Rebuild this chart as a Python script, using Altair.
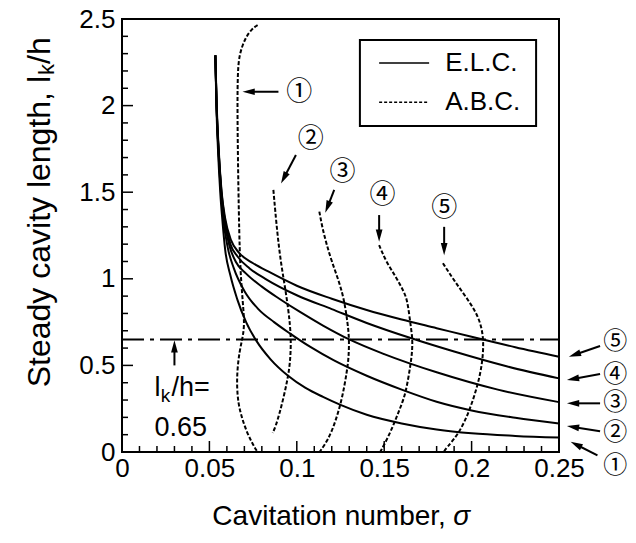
import math
import altair as alt
import pandas as pd

# ---------------- data ----------------
# E.L.C. (solid) curves 1..5 : sigma, l_k/h
elc1_s = [0.0534, 0.0540, 0.0549, 0.0562, 0.0575, 0.0590, 0.0620, 0.0660, 0.0710, 0.0770, 0.0850,
          0.0950, 0.1050, 0.1150, 0.1250, 0.1400, 0.1600, 0.1800, 0.2000, 0.2250, 0.2500]
elc1_l = [2.29, 2.00, 1.75, 1.50, 1.33, 1.17, 1.02, 0.88, 0.75, 0.64, 0.535,
          0.44, 0.37, 0.318, 0.272, 0.215, 0.165, 0.13, 0.108, 0.093, 0.083]
elc2_s = [0.0534, 0.0541, 0.0551, 0.0566, 0.0580, 0.0605, 0.0640, 0.0700, 0.0780, 0.0870, 0.0960,
          0.1080, 0.1210, 0.1400, 0.1600, 0.1800, 0.2000, 0.2250, 0.2500]
elc2_l = [2.29, 2.00, 1.75, 1.50, 1.34, 1.18, 1.06, 0.93, 0.825, 0.75, 0.685,
          0.605, 0.53, 0.44, 0.36, 0.29, 0.24, 0.198, 0.165]
elc3_s = [0.0534, 0.0541, 0.0552, 0.0568, 0.0585, 0.0615, 0.0650, 0.0710, 0.0800, 0.0900, 0.1016,
          0.1150, 0.1300, 0.1500, 0.1800, 0.2150, 0.2500]
elc3_l = [2.29, 2.00, 1.75, 1.50, 1.34, 1.19, 1.10, 1.03, 0.955, 0.885, 0.81,
          0.73, 0.65, 0.565, 0.46, 0.36, 0.288]
elc4_s = [0.0534, 0.0541, 0.0552, 0.0569, 0.0587, 0.0620, 0.0660, 0.0730, 0.0820, 0.1000, 0.1200,
          0.1400, 0.1660, 0.1900, 0.2200, 0.2500]
elc4_l = [2.29, 2.00, 1.75, 1.50, 1.35, 1.20, 1.13, 1.06, 1.00, 0.905, 0.825,
          0.745, 0.655, 0.58, 0.495, 0.425]
elc5_s = [0.0534, 0.0542, 0.0553, 0.0570, 0.0590, 0.0625, 0.0670, 0.0750, 0.0850, 0.1000, 0.1200,
          0.1400, 0.1600, 0.1800, 0.2000, 0.2250, 0.2500]
elc5_l = [2.29, 2.00, 1.75, 1.50, 1.35, 1.22, 1.15, 1.09, 1.035, 0.96, 0.885,
          0.82, 0.765, 0.715, 0.665, 0.605, 0.55]

# A.B.C. (dashed) curves 1..5
abc1_s = [0.0776, 0.0740, 0.0705, 0.0672, 0.0662, 0.0660, 0.0663, 0.0668, 0.0673, 0.0680, 0.0695,
          0.0700, 0.0690, 0.0672, 0.0660, 0.0657, 0.0665, 0.0685, 0.0712, 0.0745, 0.0775]
abc1_l = [2.465, 2.44, 2.39, 2.30, 2.20, 2.00, 1.70, 1.40, 1.17, 1.00, 0.82,
          0.73, 0.66, 0.58, 0.48, 0.38, 0.28, 0.20, 0.12, 0.05, 0.0]
abc2_s = [0.0866, 0.0876, 0.0890, 0.0908, 0.0928, 0.0948, 0.0962, 0.0967, 0.0962, 0.0950, 0.0928,
          0.0902, 0.0878, 0.0862]
abc2_l = [1.513, 1.40, 1.25, 1.10, 0.98, 0.85, 0.73, 0.63, 0.52, 0.435, 0.33,
          0.225, 0.145, 0.11]
abc3_s = [0.1129, 0.1145, 0.1170, 0.1200, 0.1243, 0.1271, 0.1290, 0.1300, 0.1297, 0.1288, 0.1262,
          0.1225, 0.1180, 0.1130]
abc3_l = [1.388, 1.30, 1.20, 1.10, 0.98, 0.878, 0.75, 0.656, 0.55, 0.473, 0.32,
          0.185, 0.07, 0.0]
abc4_s = [0.1471, 0.1510, 0.1567, 0.1610, 0.1633, 0.1652, 0.1662, 0.1660, 0.1652, 0.1624, 0.1590,
          0.1557, 0.1520, 0.1477]
abc4_l = [1.195, 1.10, 1.012, 0.93, 0.878, 0.723, 0.656, 0.58, 0.512, 0.339, 0.25,
          0.166, 0.08, 0.0]
abc5_s = [0.1836, 0.1900, 0.1967, 0.2043, 0.2071, 0.2062, 0.2033, 0.1986, 0.1929, 0.1853, 0.1840]
abc5_l = [1.09, 0.99, 0.897, 0.781, 0.656, 0.512, 0.377, 0.233, 0.108, 0.02, 0.0]

ref_level = 0.65

x_major = [0, 0.05, 0.1, 0.15, 0.2, 0.25]
x_minor = [0.01, 0.02, 0.03, 0.04, 0.06, 0.07, 0.08, 0.09, 0.11, 0.12, 0.13, 0.14,
           0.16, 0.17, 0.18, 0.19, 0.21, 0.22, 0.23, 0.24]
y_major = [0, 0.5, 1, 1.5, 2, 2.5]
y_minor = [0.1, 0.2, 0.3, 0.4, 0.6, 0.7, 0.8, 0.9, 1.1, 1.2, 1.3, 1.4,
           1.6, 1.7, 1.8, 1.9, 2.1, 2.2, 2.3, 2.4]

circled = ["\u2460", "\u2461", "\u2462", "\u2463", "\u2464"]

# annotation arrows (start sigma, start l, end sigma, end l)
arrows = [
    (0.0895, 2.08, 0.0690, 2.08),
    (0.0995, 1.715, 0.0910, 1.551),
    (0.1214, 1.513, 0.1163, 1.382),
    (0.1471, 1.368, 0.1471, 1.214),
    (0.1843, 1.300, 0.1843, 1.137),
    (0.2735, 0.612, 0.2557, 0.550),
    (0.2735, 0.450, 0.2546, 0.416),
    (0.2735, 0.281, 0.2546, 0.281),
    (0.2735, 0.120, 0.2546, 0.150),
    (0.2720, -0.020, 0.2567, 0.059),
    (0.0300, 0.500, 0.0300, 0.645),
]
# circled labels: sigma, l
abc_labels_s = [0.1014, 0.1080, 0.1262, 0.1490, 0.1843]
abc_labels_l = [2.08, 1.81, 1.618, 1.484, 1.407]
elc_labels_s = [0.2822, 0.2822, 0.2822, 0.2822, 0.2822]
elc_labels_l = [-0.081, 0.108, 0.285, 0.445, 0.635]

# ---------------- geometry ----------------
W, H = 437, 433
KX = W / 0.25
KY = H / 2.5
FONT = "Liberation Sans"
CJK = "Noto Sans CJK JP"

xs = alt.Scale(domain=[0, 0.25], nice=False, zero=False)
ys = alt.Scale(domain=[0, 2.5], nice=False, zero=False)
xaxis = alt.Axis(values=x_major, format="~g", labelFont=FONT, labelFontSize=26, labelColor="black",
                 labelPadding=3, ticks=False, domain=False, grid=False, title=None, labelFlush=False)
yaxis = alt.Axis(values=y_major, format="~g", labelFont=FONT, labelFontSize=26, labelColor="black",
                 labelPadding=7, ticks=False, domain=False, grid=False, title=None, labelFlush=False)


def X(f):
    return alt.X(f, type="quantitative", scale=xs, axis=xaxis)


def Y(f):
    return alt.Y(f, type="quantitative", scale=ys, axis=yaxis)


rows = []
for k, (s, l) in enumerate([(elc1_s, elc1_l), (elc2_s, elc2_l), (elc3_s, elc3_l),
                            (elc4_s, elc4_l), (elc5_s, elc5_l)]):
    for i, (a, b) in enumerate(zip(s, l)):
        rows.append({"series": f"E{k+1}", "i": i, "s": a, "l": b})
elc_df = pd.DataFrame(rows)
rows = []
for k, (s, l) in enumerate([(abc1_s, abc1_l), (abc2_s, abc2_l), (abc3_s, abc3_l),
                            (abc4_s, abc4_l), (abc5_s, abc5_l)]):
    for i, (a, b) in enumerate(zip(s, l)):
        rows.append({"series": f"A{k+1}", "i": i, "s": a, "l": b})
abc_df = pd.DataFrame(rows)

elc = alt.Chart(elc_df).mark_line(color="black", strokeWidth=2, interpolate="monotone").encode(
    x=X("s"), y=Y("l"), detail="series:N", order="i:Q")
abc = alt.Chart(abc_df).mark_line(color="black", strokeWidth=2, strokeDash=[4, 2],
                                  interpolate="basis").encode(
    x=X("s"), y=Y("l"), detail="series:N", order="i:Q")

ref_df = pd.DataFrame({"s": [0.0], "s2": [0.25], "l": [ref_level]})
ref = alt.Chart(ref_df).mark_rule(color="black", strokeWidth=2, strokeDash=[22, 6, 4, 6]).encode(
    x=X("s"), x2="s2", y=Y("l"))

# ticks (inward)
xt_maj = alt.Chart(pd.DataFrame({"s": x_major})).mark_rule(color="black", strokeWidth=1.5).encode(
    x=X("s"), y=alt.value(H), y2=alt.value(H - 11))
xt_min = alt.Chart(pd.DataFrame({"s": x_minor})).mark_rule(color="black", strokeWidth=1.5).encode(
    x=X("s"), y=alt.value(H), y2=alt.value(H - 6))
yt_maj = alt.Chart(pd.DataFrame({"l": y_major})).mark_rule(color="black", strokeWidth=1.5).encode(
    y=Y("l"), x=alt.value(0), x2=alt.value(11))
yt_min = alt.Chart(pd.DataFrame({"l": y_minor})).mark_rule(color="black", strokeWidth=1.5).encode(
    y=Y("l"), x=alt.value(0), x2=alt.value(6))

# arrows
ar_rows, head_rows = [], []
for (s0, l0, s1, l1) in arrows:
    dx = (s1 - s0) * KX
    dy = -(l1 - l0) * KY
    n = math.hypot(dx, dy)
    ux, uy = dx / n, dy / n
    ang = math.degrees(math.atan2(ux, -uy)) % 360
    back = 6.0
    hs = s1 - ux * back / KX
    hl = l1 + uy * back / KY
    ar_rows.append({"s": s0, "l": l0, "s2": s1 - ux * 6 / KX, "l2": l1 + uy * 6 / KY})
    head_rows.append({"s": hs, "l": hl, "ang": ang})
arr_lines = alt.Chart(pd.DataFrame(ar_rows)).mark_rule(color="black", strokeWidth=2).encode(
    x=X("s"), y=Y("l"), x2="s2", y2="l2")
arr_heads = alt.Chart(pd.DataFrame(head_rows)).mark_point(
    shape="M0,-1L0.55,1L-0.55,1Z", filled=True, color="black", opacity=1, size=150).encode(
    x=X("s"), y=Y("l"), angle=alt.Angle("ang:Q", scale=None))

labels_in = alt.Chart(pd.DataFrame({"s": abc_labels_s, "l": abc_labels_l, "t": circled})).mark_text(
    font=CJK, fontSize=26, color="black", align="center", baseline="middle").encode(
    x=X("s"), y=Y("l"), text="t:N")
labels_out = alt.Chart(pd.DataFrame({"s": elc_labels_s, "l": elc_labels_l, "t": circled})).mark_text(
    font=CJK, fontSize=24, color="black", align="center", baseline="middle").encode(
    x=X("s"), y=Y("l"), text="t:N")

# l_k/h = 0.65 annotation
ann_main = pd.DataFrame({"s": [0.0186, 0.0283, 0.0186], "l": [0.37, 0.37, 0.139],
                         "t": ["l", "/h=", "0.65"]})
ann1 = alt.Chart(ann_main).mark_text(font=FONT, fontSize=27, color="black", align="left",
                                     baseline="middle").encode(x=X("s"), y=Y("l"), text="t:N")
ann2 = alt.Chart(pd.DataFrame({"s": [0.0222], "l": [0.325], "t": ["k"]})).mark_text(
    font=FONT, fontSize=19, color="black", align="left", baseline="middle").encode(
    x=X("s"), y=Y("l"), text="t:N")

# legend box
leg_box = alt.Chart(pd.DataFrame({"s": [0.1361], "s2": [0.2369], "l": [2.379], "l2": [1.882]})).mark_rect(
    fillOpacity=0, stroke="black", strokeWidth=2).encode(x=X("s"), x2="s2", y=Y("l"), y2="l2")
leg_solid = alt.Chart(pd.DataFrame({"s": [0.1471], "s2": [0.1757], "l": [2.246]})).mark_rule(
    color="black", strokeWidth=1.5).encode(x=X("s"), x2="s2", y=Y("l"))
leg_dash = alt.Chart(pd.DataFrame({"s": [0.1471], "s2": [0.1757], "l": [2.02]})).mark_rule(
    color="black", strokeWidth=1.5, strokeDash=[3, 2]).encode(x=X("s"), x2="s2", y=Y("l"))
leg_text = alt.Chart(pd.DataFrame({"s": [0.1849, 0.1849], "l": [2.246, 2.02],
                                   "t": ["E.L.C.", "A.B.C."]})).mark_text(
    font=FONT, fontSize=26, color="black", align="left", baseline="middle").encode(
    x=X("s"), y=Y("l"), text="t:N")

# axis titles (custom text so that subscript / italic can be shown)
xt1 = alt.Chart(pd.DataFrame({"s": [0.0517], "l": [-0.375], "t": ["Cavitation number,"]})).mark_text(
    font=FONT, fontSize=28, color="black", align="left", baseline="middle").encode(
    x=X("s"), y=Y("l"), text="t:N")
xt2 = alt.Chart(pd.DataFrame({"s": [0.1895], "l": [-0.375], "t": ["\u03c3"]})).mark_text(
    font=FONT, fontSize=28, fontStyle="italic", color="black", align="left", baseline="middle").encode(
    x=X("s"), y=Y("l"), text="t:N")
J = (452 - 76) / KY  # junction between "l" and "k" in data units
yt1 = alt.Chart(pd.DataFrame({"s": [-0.0471], "l": [J], "t": ["Steady cavity length, l"]})).mark_text(
    font=FONT, fontSize=32, color="black", align="right", baseline="middle", angle=270).encode(
    x=X("s"), y=Y("l"), text="t:N")
yt2 = alt.Chart(pd.DataFrame({"s": [-0.0471 + 7 / KX], "l": [J + 1 / KY], "t": ["k"]})).mark_text(
    font=FONT, fontSize=22, color="black", align="left", baseline="middle", angle=270).encode(
    x=X("s"), y=Y("l"), text="t:N")
yt3 = alt.Chart(pd.DataFrame({"s": [-0.0471], "l": [J + 12 / KY], "t": ["/h"]})).mark_text(
    font=FONT, fontSize=32, color="black", align="left", baseline="middle", angle=270).encode(
    x=X("s"), y=Y("l"), text="t:N")

chart = alt.layer(
    ref, elc, abc, xt_maj, xt_min, yt_maj, yt_min, arr_lines, arr_heads, labels_in, labels_out,
    ann1, ann2, leg_box, leg_solid, leg_dash, leg_text, xt1, xt2, yt1, yt2, yt3
).properties(
    width=W, height=H,
    autosize=alt.AutoSizeParams(type="none"),
    padding={"left": 114, "top": 11, "right": 69, "bottom": 80},
    background="white",
).configure_view(stroke="black", strokeWidth=2)

chart.save("out.html", embed_options={"renderer": "svg", "actions": False})
